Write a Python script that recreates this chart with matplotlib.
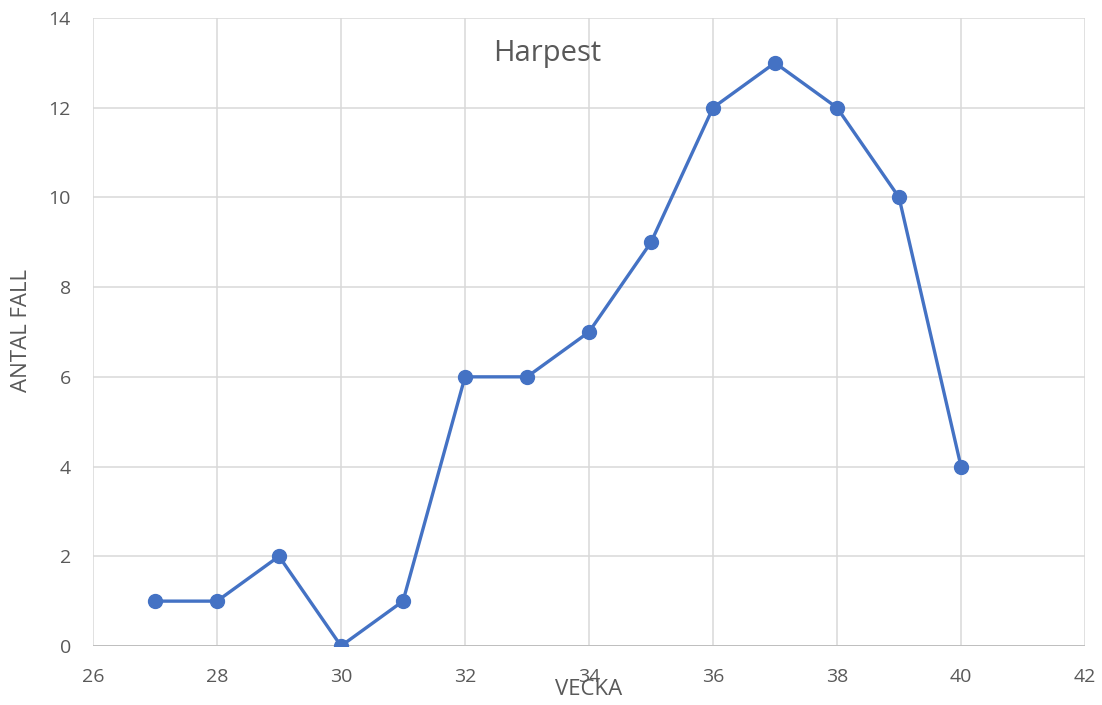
import matplotlib.pyplot as plt

weeks = [27, 28, 29, 30, 31, 32, 33, 34, 35, 36, 37, 38, 39, 40]
cases = [1, 1, 2, 0, 1, 6, 6, 7, 9, 12, 13, 12, 10, 4]

x_ticks = list(range(26, 43, 2))
y_ticks = list(range(0, 15, 2))

_text = '#595959'
_grid = '#D9D9D9'
_line = '#4472C4'

plt.rcParams['font.family'] = ['Open Sans', 'DejaVu Sans']

fig = plt.figure(figsize=(11.02, 7.05), dpi=100)
ax = fig.add_axes([0.0844, 0.0837, 0.9002, 0.8908])

ax.plot(weeks, cases, color=_line, linewidth=2.4, marker='o', markersize=10, zorder=3)

ax.set_xlim(26, 42)
ax.set_ylim(0, 14)
ax.set_xticks(x_ticks)
ax.set_yticks(y_ticks)
ax.grid(True, color=_grid, linewidth=1.1)
ax.set_axisbelow(True)
for s in ax.spines.values():
    s.set_visible(False)
ax.axhline(0, color='#BFBFBF', linewidth=1.4, zorder=1)
ax.tick_params(length=0, labelsize=14, colors=_text, pad=16)

ax.set_xlabel('VECKA', fontsize=16, color=_text)
ax.xaxis.set_label_coords(0.5, -0.052)
ax.set_ylabel('ANTAL FALL', fontsize=16, color=_text)
ax.yaxis.set_label_coords(-0.062, 0.503)
ax.text(0.458, 0.944, 'Harpest', transform=ax.transAxes, ha='center', va='center',
        fontsize=21, color=_text)

fig.savefig('out.png', dpi=100)
